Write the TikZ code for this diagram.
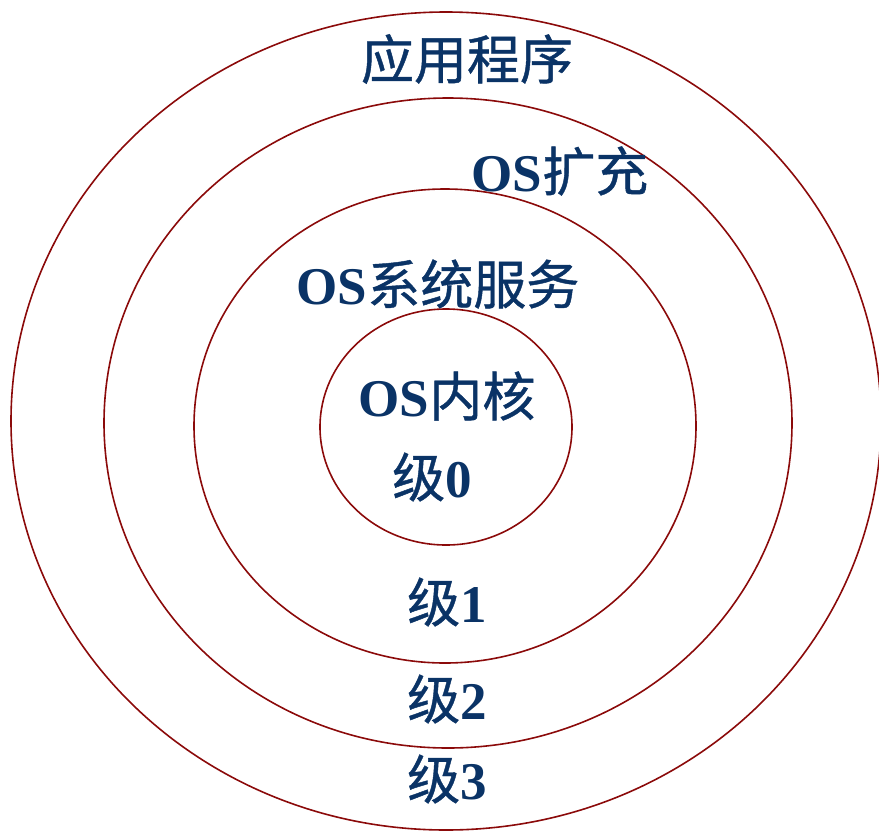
\documentclass[tikz,border=0pt]{standalone}
\usepackage{fontspec}
\setmainfont{Liberation Serif}
\newfontfamily\cjk[FakeBold=0.8]{Noto Sans CJK SC}
\definecolor{ringred}{HTML}{8B0A0A}
\definecolor{txtblue}{HTML}{0A3366}
\begin{document}
\begin{tikzpicture}[x=1pt,y=-1pt,
  ring/.style={draw=ringred,line width=1.6pt},
  lbl/.style={text=txtblue,font=\fontsize{53}{53}\selectfont\bfseries,inner sep=0pt,anchor=center}]
\useasboundingbox (0,0) rectangle (879,831);
\begin{scope}
\clip (0,0) rectangle (879,831);
\draw[ring] (446,421) ellipse [x radius=435, y radius=409];
\end{scope}
\draw[ring] (448,423) ellipse [x radius=344, y radius=325];
\draw[ring] (445,426) ellipse [x radius=251, y radius=237];
\draw[ring] (446,427) ellipse [x radius=126, y radius=118];
\node[lbl] (app) at (467,59) {\cjk\mdseries 应用程序};
\node[lbl] (ext) at (560,171) {OS{\cjk\mdseries 扩充}};
\node[lbl] (svc) at (438,284) {OS{\cjk\mdseries 系统服务}};
\node[lbl] (ker) at (447,396) {OS{\cjk\mdseries 内核}};
\node[lbl] (l0) at (432,477) {{\cjk\mdseries 级}0};
\node[lbl] (l1) at (447,602) {{\cjk\mdseries 级}1};
\node[lbl] (l2) at (447,699) {{\cjk\mdseries 级}2};
\node[lbl] (l3) at (447,779) {{\cjk\mdseries 级}3};
\end{tikzpicture}
\end{document}
